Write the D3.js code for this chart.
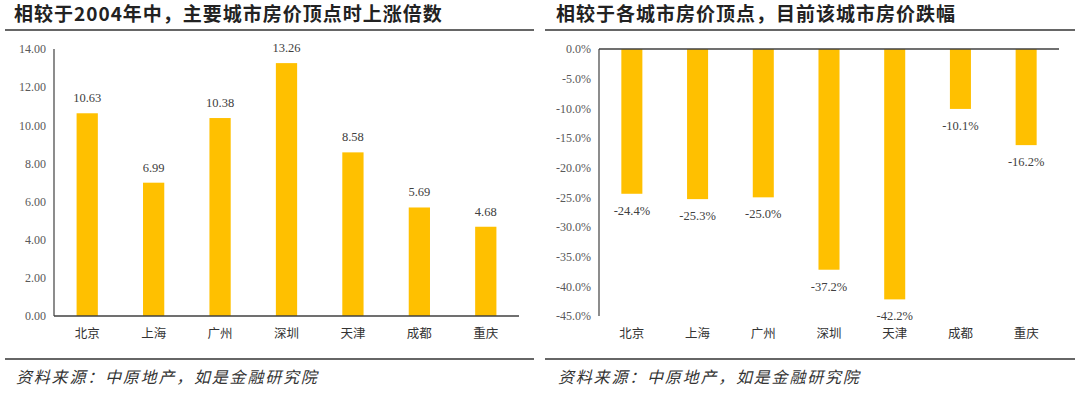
<!DOCTYPE html>
<html>
<head>
<meta charset="UTF-8">
<style>
  body { margin: 0; background: #fff; }
  svg { display: block; }
  text { font-family: "Liberation Serif", "DejaVu Serif", "Noto Sans CJK SC", serif; }
  .cjk { font-family: "Noto Sans CJK SC", sans-serif; }
</style>
</head>
<body>
<svg width="1080" height="394"></svg>
<script src="https://cdn.jsdelivr.net/npm/d3@7"></script>
<script>

var cities = ["北京", "上海", "广州", "深圳", "天津", "成都", "重庆"];
var riseTimes = [10.63, 6.99, 10.38, 13.26, 8.58, 5.69, 4.68];
var dropPct = [-24.4, -25.3, -25.0, -37.2, -42.2, -10.1, -16.2];
var riseTicks = [0, 2, 4, 6, 8, 10, 12, 14];
var dropTicks = [0, -5, -10, -15, -20, -25, -30, -35, -40, -45];

var titleLeft = "相较于2004年中，主要城市房价顶点时上涨倍数";
var titleRight = "相较于各城市房价顶点，目前该城市房价跌幅";
var source = "资料来源：中原地产，如是金融研究院";

var svg = d3.select("svg");
var barColor = "#FFC000",
  axisColor = "#404040",
  textColor = "#595959";

var plotTop = 49, plotBottom = 316;

function panel(opt) {
  var g = svg.append("g");

  // header and footer rules
  g.append("line")
    .attr("x1", opt.x0).attr("x2", opt.x1)
    .attr("y1", 30).attr("y2", 30)
    .attr("stroke", "#333").attr("stroke-width", 1.5);
  g.append("line")
    .attr("x1", opt.x0).attr("x2", opt.x1)
    .attr("y1", 359).attr("y2", 359)
    .attr("stroke", "#333").attr("stroke-width", 1.5);

  g.append("text")
    .attr("class", "cjk")
    .attr("x", opt.titleX).attr("y", 21)
    .attr("font-size", 19).attr("font-weight", "bold")
    .attr("letter-spacing", 1)
    .attr("fill", "#222")
    .text(opt.title);

  g.append("text")
    .attr("class", "cjk")
    .attr("x", opt.titleX + 2).attr("y", 383)
    .attr("font-size", 16).attr("font-style", "italic")
    .attr("letter-spacing", 1.8)
    .attr("fill", "#333")
    .text(source);

  var x = d3.scaleBand()
    .domain(cities)
    .range([opt.left, opt.right])
    .paddingInner(0.68)
    .paddingOuter(0.34);

  var y = d3.scaleLinear()
    .domain(opt.domain)
    .range([plotBottom, plotTop]);

  // y axis labels
  g.append("g")
    .attr("transform", "translate(" + opt.left + ",0)")
    .call(d3.axisLeft(y).tickValues(opt.ticks).tickSize(0).tickPadding(8).tickFormat(opt.tickFmt))
    .call(function(a) {
      a.select(".domain").remove();
      a.selectAll("text")
        .attr("fill", textColor)
        .attr("font-size", 12)
        .style("font-family", "'Liberation Serif', serif");
    });

  g.selectAll("rect.bar")
    .data(opt.values)
    .enter().append("rect")
    .attr("class", "bar")
    .attr("x", function(d, i) { return x(cities[i]); })
    .attr("width", x.bandwidth())
    .attr("y", function(d) { return Math.min(y(d), y(0)); })
    .attr("height", function(d) { return Math.abs(y(d) - y(0)); })
    .attr("fill", barColor);

  g.selectAll("text.val")
    .data(opt.values)
    .enter().append("text")
    .attr("class", "val")
    .attr("x", function(d, i) { return x(cities[i]) + x.bandwidth() / 2; })
    .attr("y", function(d) { return d >= 0 ? y(d) - 11 : y(d) + 21; })
    .attr("text-anchor", "middle")
    .attr("font-size", 12.5)
    .attr("fill", "#404040")
    .text(opt.valFmt);

  // axis lines
  g.append("line")
    .attr("x1", opt.left).attr("x2", opt.left)
    .attr("y1", plotTop).attr("y2", plotBottom)
    .attr("stroke", axisColor).attr("stroke-width", 1.2);
  g.append("line")
    .attr("x1", opt.left).attr("x2", opt.right)
    .attr("y1", y(0)).attr("y2", y(0))
    .attr("stroke", axisColor).attr("stroke-width", 1.5);

  // category labels
  g.selectAll("text.cat")
    .data(cities)
    .enter().append("text")
    .attr("class", "cat cjk")
    .attr("x", function(d) { return x(d) + x.bandwidth() / 2; })
    .attr("y", 338)
    .attr("text-anchor", "middle")
    .attr("font-size", 12.5)
    .attr("fill", "#333")
    .text(function(d) { return d; });
}

panel({
  x0: 5, x1: 534, titleX: 14,
  title: titleLeft,
  left: 54, right: 519,
  domain: [0, 14],
  ticks: riseTicks,
  tickFmt: function(d) { return d.toFixed(2); },
  values: riseTimes,
  valFmt: function(d) { return d.toFixed(2); }
});

panel({
  x0: 545, x1: 1075, titleX: 556,
  title: titleRight,
  left: 599, right: 1059,
  domain: [-45, 0],
  ticks: dropTicks,
  tickFmt: function(d) { return d.toFixed(1) + "%"; },
  values: dropPct,
  valFmt: function(d) { return d.toFixed(1) + "%"; }
});

</script>
</body>
</html>
